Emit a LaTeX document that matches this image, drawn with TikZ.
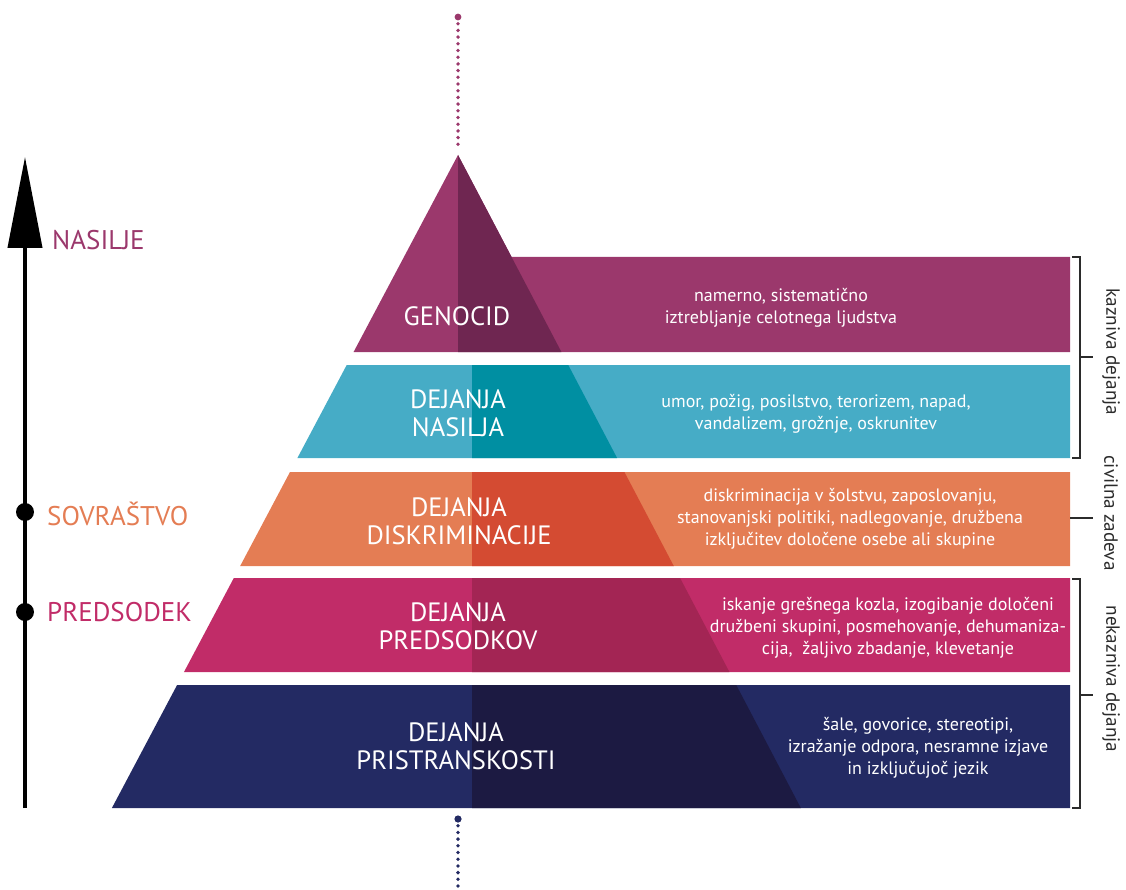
\documentclass[tikz,border=0pt]{standalone}
\usepackage{fontspec}
\setmainfont{PT Sans}
\usetikzlibrary{arrows.meta}
\definecolor{genL}{HTML}{9B386C}
\definecolor{genD}{HTML}{6F2651}
\definecolor{nasL}{HTML}{46ACC6}
\definecolor{nasD}{HTML}{008FA2}
\definecolor{disL}{HTML}{E47D54}
\definecolor{disD}{HTML}{D44B32}
\definecolor{preL}{HTML}{C12C68}
\definecolor{preD}{HTML}{A32554}
\definecolor{priL}{HTML}{232A63}
\definecolor{priD}{HTML}{1C1A42}
\definecolor{brk}{HTML}{2B2B2B}
\newcommand\pyrband[4]{%
  \fill[#3] ({458-0.53*(#1-155)},#1) -- ({458-0.53*(#2-155)},#2) -- (1070,#2) -- (1070,#1) -- cycle;
  \fill[#4] (472,#1) -- (472,#2) -- ({458+0.525*(#2-155)},#2) -- ({458+0.525*(#1-155)},#1) -- cycle;}
\begin{document}
\begin{tikzpicture}[x=1pt,y=-1pt,
  mainlbl/.style={text=white,font=\fontsize{26.5}{28}\selectfont,align=center,inner sep=0pt},
  desclbl/.style={text=white,font=\fontsize{18}{22}\selectfont,align=center,inner sep=0pt},
  sidelbl/.style={font=\fontsize{27}{28}\selectfont,anchor=west,inner sep=0pt},
  rotlbl/.style={text=brk,font=\fontsize{19.2}{22}\selectfont,rotate=-90,inner sep=0pt},
  brkline/.style={draw=brk,line width=1.4pt},
  dotline/.style={line width=3.8pt,line cap=round,dash pattern=on 0pt off 6.7pt}]
\useasboundingbox (0,0) rectangle (1126,890);
% dotted lines
\coordinate (dtA) at (458,17); \coordinate (dtB) at (458,148);
\coordinate (dbA) at (458,819); \coordinate (dbB) at (458,887);
\draw[dotline,genL] (dtA) -- (dtB);
\fill[genL] (dtA) circle (3.4);
\draw[dotline,priL] (dbA) -- (dbB);
\fill[priL] (dbA) circle (3.6);
% genocid
\fill[genL] (458,155) -- ({458-0.53*(352-155)},352) -- (1070,352) -- (1070,257) -- ({458+0.525*(257-155)},257) -- cycle;
\fill[genD] (458,155) -- (458,352) -- ({458+0.525*(352-155)},352) -- cycle;
\pyrband{365}{458}{nasL}{nasD}
\pyrband{472}{566}{disL}{disD}
\pyrband{578}{672}{preL}{preD}
\pyrband{685}{808}{priL}{priD}
% main labels
\node[mainlbl] (gen) at (457,316) {GENOCID};
\node[mainlbl] (nas) at (458,413) {DEJANJA\\NASILJA};
\node[mainlbl] (dis) at (459,521) {DEJANJA\\DISKRIMINACIJE};
\node[mainlbl] (pre) at (458,626) {DEJANJA\\PREDSODKOV};
\node[mainlbl] (pri) at (456,746) {DEJANJA\\PRISTRANSKOSTI};
% descriptions
\node[desclbl] (genT) at (781,308) {namerno, sistematično\\iztrebljanje celotnega ljudstva};
\node[desclbl] (nasT) at (816,414) {umor, požig, posilstvo, terorizem, napad,\\vandalizem, grožnje, oskrunitev};
\node[desclbl] (disT) at (850,519) {diskriminacija v šolstvu, zaposlovanju,\\stanovanjski politiki, nadlegovanje, družbena\\izključitev določene osebe ali skupine};
\node[desclbl] (preT) at (888,628) {iskanje grešnega kozla, izogibanje določeni\\družbeni skupini, posmehovanje, dehumaniza-\\cija,\ \ žaljivo zbadanje, klevetanje};
\node[desclbl] (priT) at (918,748) {šale, govorice, stereotipi,\\izražanje odpora, nesramne izjave\\in izključujoč jezik};
% left axis
\coordinate (axB) at (25,808); \coordinate (axT) at (25,157);
\draw[line width=4pt,-{Triangle[length=91pt,width=34pt]}] (axB) -- (axT);
\fill (25,512) circle (9);
\fill (25,612) circle (9);
\node[sidelbl,text=genL] (nasilje) at (52,240) {NASILJE};
\node[sidelbl,text=disL] (sovr) at (47,514) {SOVRAŠTVO};
\node[sidelbl,text=preL] (preds) at (47,612) {PREDSODEK};
% brackets
\draw[brkline] (1072,257) -- (1080,257) -- (1080,458) -- (1072,458);
\draw[brkline] (1080,357) -- (1093,357);
\draw[brkline] (1070,518) -- (1093,518);
\draw[brkline] (1072,579) -- (1080,579) -- (1080,808) -- (1072,808);
\draw[brkline] (1080,695) -- (1093,695);
\node[rotlbl] (kaz) at (1111,352) {kazniva dejanja};
\node[rotlbl] (civ) at (1111,513) {civilna zadeva};
\node[rotlbl] (nek) at (1111,679) {nekazniva dejanja};
\end{tikzpicture}
\end{document}
